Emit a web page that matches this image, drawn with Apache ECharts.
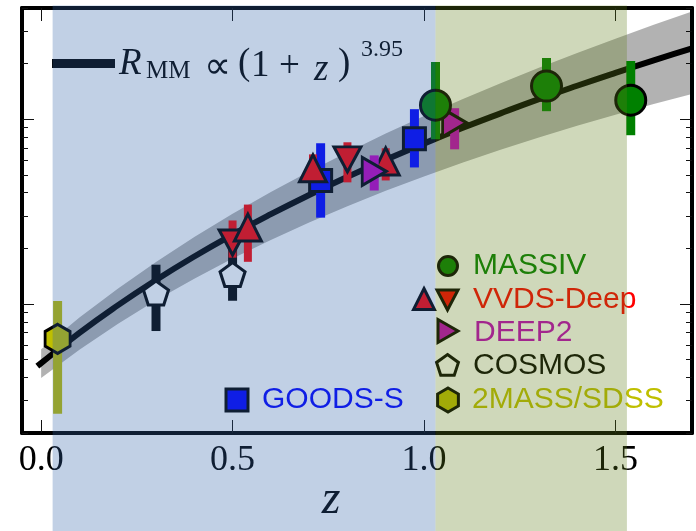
<!DOCTYPE html>
<html>
<head>
<meta charset="utf-8">
<script src="https://cdn.jsdelivr.net/npm/echarts@6/dist/echarts.min.js"></script>
<style>
html, body { margin: 0; padding: 0; background: #fff; }
#chart { width: 696px; height: 531px; }
</style>
</head>
<body>
<div id="chart"></div>
<script>
// Merger-rate model R_MM ∝ (1+z)^3.95, sampled along z
const curveZ = [-0.01, 0.0, 0.1, 0.2, 0.3, 0.4, 0.5, 0.6, 0.7, 0.8, 0.9, 1.0, 1.1, 1.2, 1.3, 1.4, 1.5, 1.6, 1.7];
const curveR = [0.00460, 0.00478, 0.00697, 0.00982, 0.01347, 0.01806, 0.02372, 0.03060, 0.03888, 0.04873, 0.06033, 0.07386, 0.0896, 0.1076, 0.1284, 0.1518, 0.1783, 0.2083, 0.2417];

// Envelope around the model
const bandZ  = [0.0, 0.1, 0.2, 0.3, 0.4, 0.5, 0.6, 0.7, 0.8, 0.9, 1.0, 1.1, 1.2, 1.3, 1.4, 1.5, 1.6, 1.7];
const bandLo = [0.00397, 0.00565, 0.00779, 0.01045, 0.0137, 0.0176, 0.02219, 0.02757, 0.03379, 0.04093, 0.04898, 0.05811, 0.06823, 0.0796, 0.09206, 0.1057, 0.1208, 0.137];
const bandHi = [0.00569, 0.00844, 0.01209, 0.01686, 0.02299, 0.03072, 0.0403, 0.05206, 0.06632, 0.08356, 0.104, 0.1283, 0.1567, 0.1902, 0.2286, 0.273, 0.3243, 0.3829];

// Survey measurements
const cosmosZ = [0.30, 0.50];
const cosmosR = [0.0116, 0.0146];
const cosmosLo = [0.00713, 0.0104];
const cosmosHi = [0.0163, 0.0197];

const goodsZ = [0.73, 0.975];
const goodsR = [0.0466, 0.0783];
const goodsLo = [0.0293, 0.0548];
const goodsHi = [0.0741, 0.1133];

const vvdsUpZ = [0.54, 0.71, 0.90];
const vvdsUpR = [0.0259, 0.0542, 0.0591];
const vvdsUpLo = [0.0169, 0.0455, 0.0466];
const vvdsUpHi = [0.0345, 0.0645, 0.0696];

const vvdsDownZ = [0.50, 0.80];
const vvdsDownR = [0.0215, 0.0606];
const vvdsDownLo = [0.0178, 0.0455];
const vvdsDownHi = [0.0283, 0.075];

const deep2Z = [0.87, 1.08];
const deep2R = [0.0522, 0.0957];
const deep2Lo = [0.0411, 0.0687];
const deep2Hi = [0.0637, 0.1147];

const massivZ = [1.03, 1.32, 1.54];
const massivR = [0.1191, 0.1511, 0.1268];
const massivLo = [0.0779, 0.1105, 0.0819];
const massivHi = [0.204, 0.2145, 0.2066];

const sdssZ = [0.043];
const sdssR = [0.00647];
const sdssLo = [0.00254];
const sdssHi = [0.01038];

// Redshift windows
const blueSpan = [0.03, 1.03];
const greenSpan = [1.03, 1.53];

// Axis ticks
const xTicks = [0.0, 0.5, 1.0, 1.5];
const yMajor = [0.01, 0.1];
const yMinor = [0.002, 0.003, 0.004, 0.005, 0.006, 0.007, 0.008, 0.009,
                0.02, 0.03, 0.04, 0.05, 0.06, 0.07, 0.08, 0.09, 0.2, 0.3, 0.4];

const C = {
  g: '#008000', r: '#ff0000', m: '#bf00bf', k: '#000000', y: '#bfbf00', b: '#0000ff', w: '#ffffff'
};

const SYM = {
  down: 'path://M-1,-1 L1,-1 L0,1 Z',
  right: 'path://M-1,-1 L1,0 L-1,1 Z',
  pent: 'path://M0,-1 L0.951,-0.309 L0.588,0.809 L-0.588,0.809 L-0.951,-0.309 Z',
  hex: 'path://M0,-1 L0.866,-0.5 L0.866,0.5 L0,1 L-0.866,0.5 L-0.866,-0.5 Z'
};

const chart = echarts.init(document.getElementById('chart'));

function xAxisDef(pos, labels) {
  return {
    type: 'value', min: -0.05, max: 1.7, position: pos,
    axisLine: { onZero: false, lineStyle: { color: '#000', width: 4 } },
    axisTick: { inside: true, length: 13, customValues: xTicks, lineStyle: { color: '#111', width: 1 } },
    axisLabel: labels ? {
      customValues: xTicks, formatter: v => v.toFixed(1),
      fontFamily: 'Liberation Serif', fontSize: 36, color: '#000', margin: 10
    } : { show: false },
    splitLine: { show: false }
  };
}
function yAxisDef(pos, ticks, len, line) {
  return {
    type: 'log', logBase: 10, min: 0.002, max: 0.4, position: pos,
    axisLine: { show: line, onZero: false, lineStyle: { color: '#000', width: 4 } },
    axisTick: { inside: true, length: len, customValues: ticks, lineStyle: { color: '#111', width: 1 } },
    axisLabel: { show: false },
    splitLine: { show: false }
  };
}

function errorSeries(zs, lo, hi, color, width, z) {
  return {
    type: 'custom', z: z, silent: true,
    data: zs.map((v, i) => [v, lo[i], hi[i]]),
    encode: { x: 0, y: [1, 2] },
    renderItem: function (params, api) {
      const a = api.coord([api.value(0), api.value(1)]);
      const b = api.coord([api.value(0), api.value(2)]);
      return {
        type: 'rect',
        shape: { x: a[0] - width / 2, y: b[1], width: width, height: a[1] - b[1] },
        style: { fill: color }
      };
    }
  };
}
function markerSeries(name, zs, rs, symbol, size, fill, z, offset) {
  return {
    type: 'scatter', name: name, z: z, silent: true,
    data: zs.map((v, i) => [v, rs[i]]),
    symbol: symbol, symbolSize: size, symbolOffset: offset || [0, 0],
    itemStyle: { color: fill, borderColor: '#000', borderWidth: 3, opacity: 1 }
  };
}

const option = {
  animation: false,
  grid: { left: 22, right: 4, top: 8, bottom: 98, containLabel: false, outerBoundsMode: 'none' },
  xAxis: [xAxisDef('bottom', true), xAxisDef('top', false)],
  yAxis: [
    yAxisDef('left', yMajor, 12, true),
    yAxisDef('right', yMajor, 12, true),
    yAxisDef('left', yMinor, 6, false),
    yAxisDef('right', yMinor, 6, false)
  ],
  series: [
    {
      type: 'custom', z: 1, silent: true,
      data: bandZ.map((v, i) => [v, bandLo[i], bandHi[i]]),
      encode: { x: 0, y: [1, 2] },
      renderItem: function (params, api) {
        if (params.dataIndex !== 0) return;
        const top = bandZ.map((v, i) => api.coord([v, bandHi[i]]));
        const bot = bandZ.map((v, i) => api.coord([v, bandLo[i]])).reverse();
        return { type: 'polygon', shape: { points: top.concat(bot) }, style: { fill: 'rgba(0,0,0,0.3)' } };
      }
    },
    {
      type: 'line', z: 2, silent: true, smooth: true, showSymbol: false,
      data: curveZ.map((v, i) => [v, curveR[i]]),
      lineStyle: { color: '#000', width: 6 }
    },
    errorSeries(cosmosZ, cosmosLo, cosmosHi, C.k, 9, 3),
    markerSeries('COSMOS', cosmosZ, cosmosR, SYM.pent, [25, 24], C.w, 4, [0, 1]),
    errorSeries(goodsZ, goodsLo, goodsHi, C.b, 9, 5),
    markerSeries('GOODS-S', goodsZ, goodsR, 'rect', 22, C.b, 6),
    errorSeries(vvdsDownZ, vvdsDownLo, vvdsDownHi, C.r, 8, 7),
    markerSeries('VVDS-Deep', vvdsDownZ, vvdsDownR, SYM.down, [27, 25], C.r, 8),
    errorSeries(vvdsUpZ, vvdsUpLo, vvdsUpHi, C.r, 8, 9),
    markerSeries('VVDS-Deep', vvdsUpZ, vvdsUpR, 'triangle', [27, 27], C.r, 10),
    errorSeries(deep2Z, deep2Lo, deep2Hi, C.m, 9, 11),
    markerSeries('DEEP2', deep2Z, deep2R, SYM.right, [24, 28], C.m, 12),
    errorSeries(massivZ, massivLo, massivHi, C.g, 9, 13),
    markerSeries('MASSIV', massivZ, massivR, 'circle', 30, C.g, 14),
    errorSeries(sdssZ, sdssLo, sdssHi, C.y, 9, 15),
    markerSeries('2MASS/SDSS', sdssZ, sdssR, SYM.hex, [25, 29], C.y, 16)
  ]
};
chart.setOption(option);

// Legend entries and annotation text
const legendFont = { fontFamily: 'Liberation Sans', fontSize: 30, verticalAlign: 'middle', align: 'left' };
function legendText(x, y, text, color) {
  return { type: 'text', x: x, y: y, z: 50, silent: true, style: Object.assign({ text: text, fill: color }, legendFont) };
}
function poly(cx, cy, pts, sx, sy, fill) {
  return {
    type: 'polygon', z: 50, silent: true,
    shape: { points: pts.map(p => [cx + p[0] * sx, cy + p[1] * sy]) },
    style: { fill: fill, stroke: '#000', lineWidth: 3 }
  };
}
const P_UP = [[0, -1], [1, 1], [-1, 1]];
const P_DOWN = [[-1, -1], [1, -1], [0, 1]];
const P_RIGHT = [[-1, -1], [1, 0], [-1, 1]];
const P_PENT = [[0, -1], [0.951, -0.309], [0.588, 0.809], [-0.588, 0.809], [-0.951, -0.309]];
const P_HEX = [[0, -1], [0.866, -0.5], [0.866, 0.5], [0, 1], [-0.866, 0.5], [-0.866, -0.5]];

const serif = 'Liberation Serif';
function mathText(x, y, text, size, italic) {
  return {
    type: 'text', x: x, y: y, z: 50, silent: true,
    style: { text: text, fill: '#000', fontFamily: serif, fontStyle: italic ? 'italic' : 'normal', fontSize: size, verticalAlign: 'middle' }
  };
}
const graphics = [
  { type: 'line', z: 50, silent: true, shape: { x1: 52, y1: 63.5, x2: 115, y2: 63.5 }, style: { stroke: '#000', lineWidth: 9 } },
  mathText(119, 64, 'R', 37, true),
  mathText(146, 71, 'MM', 25, false),
  mathText(204, 68, '∝', 38, false),
  mathText(238, 64, '(', 37, false),
  mathText(251, 66, '1', 37, false),
  mathText(279, 67, '+', 37, false),
  mathText(314, 70, 'z', 37, true),
  mathText(338, 64, ')', 37, false),
  mathText(361, 50, '3.95', 24, false),

  { type: 'circle', z: 50, silent: true, shape: { cx: 448, cy: 266, r: 9.5 }, style: { fill: C.g, stroke: '#000', lineWidth: 3 } },
  legendText(473, 266, 'MASSIV', C.g),
  poly(424, 299, P_UP, 10.5, 10.5, C.r),
  poly(447.5, 300, P_DOWN, 10.5, 10, C.r),
  legendText(473, 300, 'VVDS-Deep', C.r),
  poly(448, 331, P_RIGHT, 10, 11.5, C.m),
  legendText(474, 333, 'DEEP2', C.m),
  poly(447.5, 366, P_PENT, 11.5, 11.5, C.w),
  legendText(473, 366, 'COSMOS', C.k),
  poly(448, 400, P_HEX, 12, 12, C.y),
  legendText(472, 400, '2MASS/SDSS', C.y),
  { type: 'rect', z: 50, silent: true, shape: { x: 226, y: 389, width: 22, height: 22 }, style: { fill: C.b, stroke: '#000', lineWidth: 3 } },
  legendText(262, 400, 'GOODS-S', C.b),

  { type: 'text', x: 331, y: 500, z: 50, silent: true, style: { text: 'z', fill: '#000', fontFamily: serif, fontStyle: 'italic', fontSize: 48, align: 'center', verticalAlign: 'middle' } }
];

// Translucent redshift windows laid over the whole figure
const yTop = chart.convertToPixel({ yAxisIndex: 0 }, 0.4) - 2.5;
function span(r, fill) {
  const a = chart.convertToPixel({ xAxisIndex: 0 }, r[0]);
  const b = chart.convertToPixel({ xAxisIndex: 0 }, r[1]);
  return { type: 'rect', z: 100, silent: true, shape: { x: a, y: yTop, width: b - a, height: 531 - yTop }, style: { fill: fill } };
}
graphics.push(span(blueSpan, 'rgba(50,100,170,0.3)'));
graphics.push(span(greenSpan, 'rgba(95,125,28,0.3)'));

chart.setOption({ graphic: graphics });
</script>
</body>
</html>
